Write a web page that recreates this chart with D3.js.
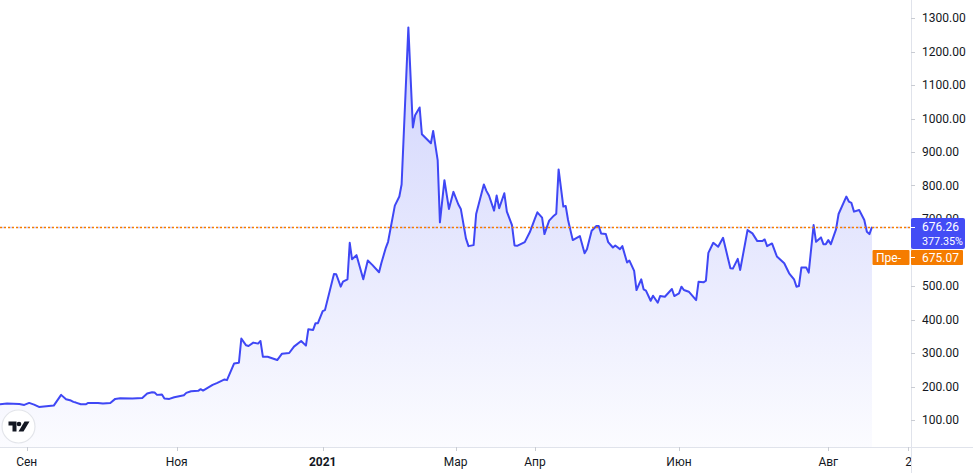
<!DOCTYPE html>
<html><head><meta charset="utf-8">
<script src="https://cdn.jsdelivr.net/npm/d3@7"></script>
<style>
html,body{margin:0;padding:0;background:#fff;}
svg{display:block;font-family:Roboto,"Liberation Sans",sans-serif;}
</style></head>
<body>
<script>
// ---- data (day offset from 2020-09-01, value) ----
const dayOffsets = [-11,-8,-3,-1,1,3,5,8,11,14,16,18,19,20,22,24,25,29,31,34,36,38,43,47,49,51,52,53,55,56,58,60,
62,64,65,67,70,71,72,76,78,81,82,85,87,88,90,91,93,95,96,97,99,103,105,108,110,113,115,116,118,119,120,122,123,
127,128,130,131,133,134,135,137,140,142,144,147,148,150,151,154,156,157,160,162,163,165,166,170,171,173,174,176,178,180,
182,183,185,186,188,189,192,193,194,196,197,198,200,201,203,204,205,208,210,212,213,215,216,218,220,221,222,224,225,226,228,
231,233,234,236,238,239,240,242,243,245,246,248,249,251,252,254,255,257,258,259,261,262,264,265,267,270,271,273,274,275,277,
280,281,283,284,285,287,289,291,293,294,295,297,298,300,301,303,305,307,308,309,311,313,316,318,320,321,322,323,325,326,328,
329,331,332,333,334,335,337,338,341,342,343,344,346,348,349,350,351];
const values = [147,149,148,145,151,146,139,141,143,175,162,158,154,152,147,147,151,151,149,151,163,165,164,166,179,183,182,175,176,164,163,168,
171,174,181,186,187,192,188,205,211,221,219,269,271,343,323,321,331,328,336,289,289,279,298,300,319,336,322,371,369,389,389,425,428,
536,535,498,513,520,629,580,592,520,576,563,541,568,614,632,740,767,803,1272,973,1010,1033,953,926,963,876,690,816,730,781,
744,730,642,619,622,715,803,784,770,725,770,732,777,722,682,621,620,631,661,702,720,704,655,695,710,716,848,737,739,697,637,
649,598,610,665,679,679,657,655,631,615,621,610,619,570,576,545,488,520,490,486,456,471,450,470,468,491,470,478,498,488,483,
458,513,511,516,599,629,617,644,583,553,552,581,548,627,667,657,634,634,639,619,627,588,568,538,520,498,500,555,555,540,682,
632,645,625,625,637,625,669,715,767,752,748,722,727,697,662,655,676.26];
const lastPrice = 676.26, lastChange = "377.35%", prevClose = 675.07, prevLabel = "Пре-";
const priceTicks = [100,200,300,400,500,700,800,900,1000,1100,1200,1300];
const timeTickDates = ["2020-09-01","2020-11-01","2021-01-01","2021-03-01","2021-04-01","2021-06-01","2021-08-01","2021-09-01"];
const timeTickLabels = ["Сен","Ноя","2021","Мар","Апр","Июн","Авг","23"];

// ---- layout ----
const W = 973, H = 473, plotR = 911, plotB = 447;
const parse = d3.timeParse("%Y-%m-%d");
const base = parse("2020-09-01");
const data = dayOffsets.map((d,i)=>({date:d3.timeDay.offset(base,d), v:values[i]}));
const tickDates = timeTickDates.map(parse);

const x = d3.scaleTime().domain(tickDates).range([26.7,176.7,322.7,455.7,535,679,828.3,908]);
const y = d3.scaleLinear().domain([100,1300]).range([420,18]);

const svg = d3.select("body").append("svg").attr("width",W).attr("height",H);
const defs = svg.append("defs");
const grad = defs.append("linearGradient").attr("id","g").attr("gradientUnits","userSpaceOnUse")
  .attr("x1",0).attr("y1",0).attr("x2",0).attr("y2",plotB);
grad.append("stop").attr("offset",0).attr("stop-color","rgb(61,75,245)").attr("stop-opacity",0.26);
grad.append("stop").attr("offset",1).attr("stop-color","rgb(61,75,245)").attr("stop-opacity",0.02);
defs.append("clipPath").attr("id","plot").append("rect").attr("x",0).attr("y",0).attr("width",plotR).attr("height",plotB);
defs.append("clipPath").attr("id","tclip").append("rect").attr("x",0).attr("y",plotB).attr("width",plotR).attr("height",H-plotB);

const plot = svg.append("g").attr("clip-path","url(#plot)");
plot.append("path").datum(data)
  .attr("d", d3.area().x(d=>x(d.date)).y0(plotB).y1(d=>y(d.v)))
  .attr("fill","url(#g)");
plot.append("path").datum(data)
  .attr("d", d3.line().x(d=>x(d.date)).y(d=>y(d.v)))
  .attr("fill","none").attr("stroke","#3f47f5").attr("stroke-width",2).attr("stroke-linejoin","round");

// price lines (dotted)
const dl = Math.round(y(prevClose))+0.5;
plot.append("line").attr("x1",0).attr("x2",plotR).attr("y1",dl).attr("y2",dl)
  .attr("stroke","#f57c00").attr("stroke-width",1.6).attr("stroke-dasharray","2,2");
plot.append("line").attr("x1",0).attr("x2",plotR).attr("y1",dl).attr("y2",dl)
  .attr("stroke","#4a55f0").attr("stroke-width",1.4).attr("stroke-dasharray","1,7").attr("stroke-dashoffset",-2.5).attr("opacity",0.6);

// logo
const logo = svg.append("g").attr("transform","translate(18.5,426.5)");
logo.append("circle").attr("r",16.5).attr("fill","#fff").attr("stroke","#e3e5ea").attr("stroke-width",1.2);
logo.append("path").attr("d","M-10,-5 H-2 V5 H-6 V-1 H-10 Z").attr("fill","#131722");
logo.append("circle").attr("cx",0.5).attr("cy",-2.5).attr("r",2.3).attr("fill","#131722");
logo.append("path").attr("d","M6,-5 H11 L5,5 H0 Z").attr("fill","#131722");

// axes lines
svg.append("line").attr("x1",0).attr("x2",W).attr("y1",plotB+0.5).attr("y2",plotB+0.5).attr("stroke","#e0e3eb");
svg.append("line").attr("x1",plotR+0.5).attr("x2",plotR+0.5).attr("y1",0).attr("y2",H).attr("stroke","#e0e3eb");

// time axis
const tAxis = svg.append("g").attr("clip-path","url(#tclip)");
tAxis.selectAll("line.t").data(tickDates).join("line")
  .attr("x1",d=>Math.round(x(d))+0.5).attr("x2",d=>Math.round(x(d))+0.5).attr("y1",plotB).attr("y2",plotB+4)
  .attr("stroke","#c9ccd3");
tAxis.selectAll("text").data(tickDates).join("text")
  .attr("x",(d,i)=> i===tickDates.length-1 ? x(d)+4 : x(d)).attr("y",plotB+19)
  .attr("text-anchor","middle").attr("font-size",12).attr("fill","#131722")
  .attr("font-weight",(d,i)=>timeTickLabels[i]==="2021"?"bold":"normal")
  .text((d,i)=>timeTickLabels[i]);

// price axis
const pAxis = svg.append("g");
pAxis.selectAll("line").data(priceTicks).join("line")
  .attr("x1",plotR).attr("x2",plotR+4).attr("y1",d=>Math.round(y(d))+0.5).attr("y2",d=>Math.round(y(d))+0.5)
  .attr("stroke","#c9ccd3");
pAxis.selectAll("text").data(priceTicks).join("text")
  .attr("x",922).attr("y",d=>y(d)+4.3).attr("font-size",12).attr("fill","#131722")
  .text(d=>d3.format(".2f")(d));

// last price label
const ly = y(lastPrice);
svg.append("rect").attr("x",plotR).attr("y",ly-9).attr("width",54).attr("height",31).attr("rx",2).attr("fill","#434cf5");
svg.append("line").attr("x1",plotR).attr("x2",plotR+4).attr("y1",Math.round(ly)+0.5).attr("y2",Math.round(ly)+0.5).attr("stroke","#fff");
svg.append("text").attr("x",922).attr("y",ly+4.3).attr("font-size",12).attr("fill","#fff").text(d3.format(".2f")(lastPrice));
svg.append("text").attr("x",922).attr("y",ly+18.5).attr("font-size",11.5).attr("textLength",41).attr("lengthAdjust","spacingAndGlyphs").attr("fill","#fff").text(lastChange);

// prev close label
const py = ly + 30.5;
svg.append("rect").attr("x",plotR).attr("y",py-7.5).attr("width",52).attr("height",15).attr("rx",1).attr("fill","#f57c00");
svg.append("line").attr("x1",plotR).attr("x2",plotR+4).attr("y1",Math.round(py)+0.5).attr("y2",Math.round(py)+0.5).attr("stroke","#fff");
svg.append("text").attr("x",922).attr("y",py+4.3).attr("font-size",12).attr("fill","#fff").text(d3.format(".2f")(prevClose));
svg.append("rect").attr("x",872.5).attr("y",py-7.5).attr("width",37).attr("height",15).attr("rx",1).attr("fill","#f57c00");
svg.append("text").attr("x",876).attr("y",py+4.3).attr("font-size",12).attr("fill","#fff").text(prevLabel);
</script>
</body></html>
